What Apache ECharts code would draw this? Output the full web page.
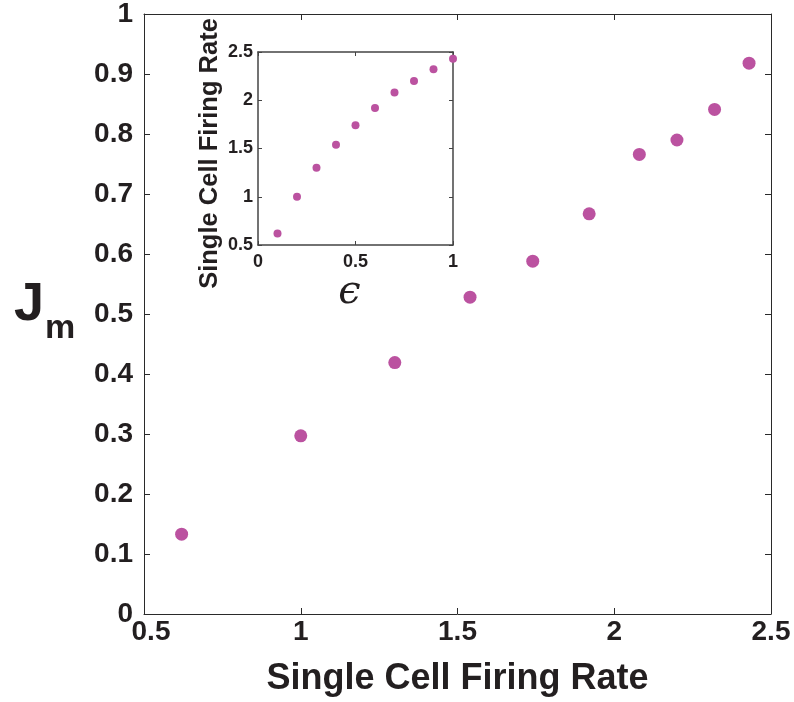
<!DOCTYPE html>
<html>
<head>
<meta charset="utf-8">
<script src="https://cdn.jsdelivr.net/npm/echarts@6/dist/echarts.min.js"></script>
<style>
  html, body { margin: 0; padding: 0; background: #fff; }
  #chart { width: 794px; height: 702px; }
</style>
</head>
<body>
<div id="chart"></div>
<script>
// inset: epsilon vs single cell firing rate
const epsilon = [0.1, 0.2, 0.3, 0.4, 0.5, 0.6, 0.7, 0.8, 0.9, 1.0];
const firingRate = [0.62, 1.0, 1.3, 1.54, 1.74, 1.92, 2.08, 2.2, 2.32, 2.43];
// main: firing rate vs J_m
const jm = [0.133, 0.297, 0.419, 0.528, 0.588, 0.667, 0.766, 0.79, 0.841, 0.918];

const FONT = "'Liberation Sans', Arial, sans-serif";
const INK = "#231f20";
const DOT = "#bb52a0";

var myChart = echarts.init(document.getElementById("chart"));

const boxAxis = (extra) =>
  Object.assign(
    {
      type: "value",
      splitLine: { show: false },
      axisLine: { show: true, onZero: false, lineStyle: { color: "#2a2a2a", width: 1 } },
      axisTick: { show: true, inside: true, length: 6, lineStyle: { color: "#2a2a2a" } },
      axisLabel: { show: false },
    },
    extra
  );

// inset axes are a bit greyer and thicker
const insetLine = { show: true, onZero: false, lineStyle: { color: "#444", width: 1.5 } };
const insetTick = { show: true, inside: true, length: 4, lineStyle: { color: "#444" } };

var option = {
  animation: false,
  backgroundColor: "#fff",
  grid: [
    { left: 144, top: 14, width: 627, height: 602 },
    { left: 258, top: 52, width: 195, height: 193, show: true, backgroundColor: "#fff", borderWidth: 0, z: 5 },
  ],
  xAxis: [
    boxAxis({
      gridIndex: 0,
      position: "bottom",
      min: 0.5,
      max: 2.5,
      interval: 0.5,
      axisLabel: {
        show: true,
        margin: 4,
        fontFamily: FONT,
        fontWeight: "bold",
        fontSize: 28,
        color: INK,
        formatter: (v) => (v === 0.5 ? "{f|0.5}" : String(v)),
        rich: { f: { fontFamily: FONT, fontWeight: "bold", fontSize: 28, color: INK, padding: [0, 0, 0, 14] } },
      },
      name: "Single Cell Firing Rate",
      nameLocation: "middle",
      nameGap: 47,
      nameTextStyle: { fontFamily: FONT, fontWeight: "bold", fontSize: 36, color: INK },
    }),
    boxAxis({ gridIndex: 0, position: "top", min: 0.5, max: 2.5, interval: 0.5 }),
    boxAxis({
      gridIndex: 1,
      position: "bottom",
      min: 0,
      max: 1,
      interval: 0.5,
      axisTick: insetTick,
      axisLine: insetLine,
      axisLabel: { show: true, margin: 8, fontFamily: FONT, fontWeight: "bold", fontSize: 18, color: INK },
      name: "\u03f5",
      nameLocation: "middle",
      nameGap: 28,
      nameTextStyle: { fontFamily: "'DejaVu Serif', serif", fontStyle: "italic", fontSize: 40, color: INK, padding: [0, 12, 0, 0] },
      z: 6,
    }),
    boxAxis({ gridIndex: 1, position: "top", min: 0, max: 1, interval: 0.5, axisTick: insetTick, axisLine: insetLine, z: 6 }),
  ],
  yAxis: [
    boxAxis({
      gridIndex: 0,
      position: "left",
      min: 0,
      max: 1,
      interval: 0.1,
      axisLabel: { show: true, margin: 11, fontFamily: FONT, fontWeight: "bold", fontSize: 28, color: INK, padding: [4, 0, 0, 0] },
    }),
    boxAxis({ gridIndex: 0, position: "right", min: 0, max: 1, interval: 0.1 }),
    boxAxis({
      gridIndex: 1,
      position: "left",
      min: 0.5,
      max: 2.5,
      interval: 0.5,
      axisTick: insetTick,
      axisLine: insetLine,
      axisLabel: { show: true, margin: 5, fontFamily: FONT, fontWeight: "bold", fontSize: 18, color: INK },
      name: "Single Cell Firing Rate",
      nameLocation: "middle",
      nameRotate: 90,
      nameGap: 35,
      nameTextStyle: { fontFamily: FONT, fontWeight: "bold", fontSize: 25.5, color: INK, padding: [0, 10, 0, 0] },
      z: 6,
    }),
    boxAxis({ gridIndex: 1, position: "right", min: 0.5, max: 2.5, interval: 0.5, axisTick: insetTick, axisLine: insetLine, z: 6 }),
  ],
  graphic: [
    { type: "text", left: 14, top: 278, z: 10, style: { text: "J", font: "bold 54px " + FONT, fill: INK } },
    { type: "text", left: 45, top: 312, z: 10, style: { text: "m", font: "bold 34px " + FONT, fill: INK } },
  ],
  series: [
    {
      type: "scatter",
      xAxisIndex: 0,
      yAxisIndex: 0,
      symbolSize: 13,
      itemStyle: { color: DOT, opacity: 1 },
      data: firingRate.map((v, i) => [v, jm[i]]),
    },
    {
      type: "scatter",
      xAxisIndex: 2,
      yAxisIndex: 2,
      symbolSize: 8,
      z: 7,
      itemStyle: { color: DOT, opacity: 1 },
      data: epsilon.map((v, i) => [v, firingRate[i]]),
    },
  ],
};

option && myChart.setOption(option);
</script>
</body>
</html>
